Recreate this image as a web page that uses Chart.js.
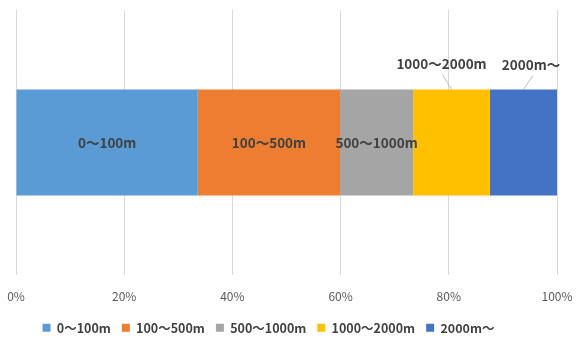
<!DOCTYPE html>
<html>
<head>
<meta charset="utf-8">
<script src="https://cdn.jsdelivr.net/npm/chart.js@4/dist/chart.umd.min.js"></script>
<style>
  html, body { margin: 0; padding: 0; background: #ffffff; }
  #wrap { width: 577px; height: 341px; }
</style>
</head>
<body>
<div id="wrap"><canvas id="c"></canvas></div>
<script>
// Distance bands and their share (%)
const categories = ['0〜100m', '100〜500m', '500〜1000m', '1000〜2000m', '2000m〜'];
const shares = [33.6, 26.3, 13.5, 14.2, 12.4];
const colors = ['#5B9BD5', '#ED7D31', '#A5A5A5', '#FFC000', '#4472C4'];
const tickValues = [0, 20, 40, 60, 80, 100];

const FONT = '"Noto Sans CJK JP", "Noto Sans", sans-serif';

// Segment labels: inside the bar, or above it with a short leader line
const labelPlacement = [
  { outside: false },
  { outside: false },
  { outside: false },
  { outside: true, dx: -10, dy: -26, lineDx: 1 },
  { outside: true, dx: 7.5, dy: -25, lineDx: 2 }
];

const segmentLabels = {
  id: 'segmentLabels',
  afterLayout(chart) {
    // legend row sits a little left of centre and close to the bottom edge
    const lg = chart.legend;
    if (lg) {
      lg.left -= 18;
      lg.right -= 18;
      lg.top += 4;
      lg.bottom += 4;
    }
  },
  afterDatasetsDraw(chart) {
    const ctx = chart.ctx;
    ctx.save();
    ctx.font = 'bold 13.5px ' + FONT;
    ctx.fillStyle = '#404040';
    ctx.textAlign = 'center';
    ctx.textBaseline = 'middle';
    chart.data.datasets.forEach((ds, i) => {
      const el = chart.getDatasetMeta(i).data[0];
      if (!el) return;
      const cx = (el.x + el.base) / 2;
      const p = labelPlacement[i];
      if (!p.outside) {
        ctx.fillText(ds.label, cx, el.y);
      } else {
        const top = el.y - el.height / 2;
        const lx = cx + p.dx;
        const ly = top + p.dy;
        ctx.strokeStyle = '#BFBFBF';
        ctx.lineWidth = 1;
        ctx.beginPath();
        ctx.moveTo(lx + p.lineDx, ly + 11);
        ctx.lineTo(cx, top);
        ctx.stroke();
        ctx.fillText(ds.label, lx, ly);
      }
    });
    ctx.restore();
  }
};

new Chart(document.getElementById('c'), {
  type: 'bar',
  data: {
    labels: [''],
    datasets: categories.map((name, i) => ({
      label: name,
      data: [shares[i]],
      backgroundColor: colors[i],
      borderWidth: 0,
      barPercentage: 0.4,
      categoryPercentage: 1.0
    }))
  },
  options: {
    indexAxis: 'y',
    responsive: true,
    maintainAspectRatio: false,
    animation: false,
    layout: { padding: { left: 16, right: 20, top: 10, bottom: 1 } },
    scales: {
      x: {
        stacked: true,
        min: 0,
        max: 100,
        afterBuildTicks(axis) { axis.ticks = tickValues.map(v => ({ value: v })); },
        afterFit(axis) {
          axis.height -= 11;
          axis.paddingLeft = 0;
          axis.paddingRight = 0;
        },
        border: { display: false },
        grid: { color: '#D9D9D9', drawTicks: false, lineWidth: 1 },
        ticks: {
          padding: 14,
          color: '#595959',
          font: { family: FONT, size: 12 },
          callback: v => v + '%'
        }
      },
      y: {
        stacked: true,
        display: false
      }
    },
    plugins: {
      legend: {
        position: 'bottom',
        labels: {
          boxWidth: 8,
          boxHeight: 8,
          padding: 11,
          color: '#404040',
          font: { family: FONT, size: 12.5, weight: 'bold' }
        }
      },
      tooltip: { enabled: false }
    }
  },
  plugins: [segmentLabels]
});
</script>
</body>
</html>
